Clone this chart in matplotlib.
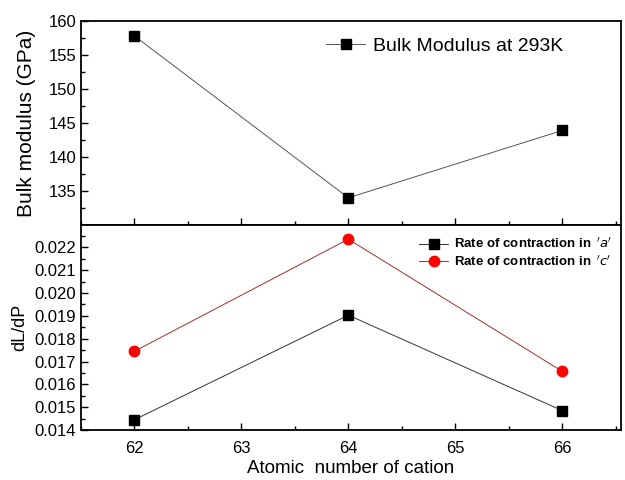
import matplotlib
matplotlib.use("Agg")
import matplotlib.pyplot as plt
from matplotlib.ticker import MultipleLocator, FormatStrFormatter

plt.rcParams['font.family'] = ['Liberation Sans', 'DejaVu Sans']

atomic_number = [62, 64, 66]
bulk_modulus = [157.8, 134.0, 143.9]
rate_a = [0.01445, 0.01903, 0.01485]
rate_c = [0.01745, 0.02236, 0.01657]

fig = plt.figure(figsize=(6.25, 4.8), dpi=100)
left, right = 81/625, 621/625
ax1 = fig.add_axes([left, 1-225/480, right-left, (225-21)/480])
ax2 = fig.add_axes([left, 1-430/480, right-left, (430-225)/480], sharex=ax1)

ax1.plot(atomic_number, bulk_modulus, color='#555555', lw=0.7, marker='s',
         ms=7, mfc='black', mec='black', label='Bulk Modulus at 293K')
ax1.set_ylim(130, 160)
ax1.set_xlim(61.5, 66.55)
ax1.set_yticks([135, 140, 145, 150, 155, 160])
ax1.yaxis.set_minor_locator(MultipleLocator(2.5))
ax1.set_ylabel('Bulk modulus (GPa)', fontsize=15)
ax1.yaxis.set_label_coords(-0.083, 0.5)
ax1.tick_params(labelbottom=False)
ax1.legend(loc='upper right', bbox_to_anchor=(0.925, 1.005), frameon=False,
           fontsize=14, handlelength=2.0, handletextpad=0.4)

ax2.plot(atomic_number, rate_a, color='#333333', lw=0.7, marker='s', ms=7,
         mfc='black', mec='black', label="Rate of contraction in $\\,\\it{'a'}$")
ax2.plot(atomic_number, rate_c, color='#a03030', lw=0.7, marker='o', ms=7.5,
         mfc='red', mec='red', label="Rate of contraction in $\\,\\it{'c'}$")
ax2.set_ylim(0.014, 0.02298)
ax2.yaxis.set_major_locator(MultipleLocator(0.001))
ax2.yaxis.set_minor_locator(MultipleLocator(0.0005))
ax2.yaxis.set_major_formatter(FormatStrFormatter('%.3f'))
ax2.xaxis.set_major_locator(MultipleLocator(1))
ax2.xaxis.set_minor_locator(MultipleLocator(0.5))
ax2.set_ylabel('dL/dP', fontsize=13)
ax2.yaxis.set_label_coords(-0.097, 0.5)
ax2.set_xlabel('Atomic  number of cation', fontsize=13.5, labelpad=3)
ax2.legend(loc='upper right', bbox_to_anchor=(1.005, 1.0), frameon=False,
           handlelength=2.2, handletextpad=0.4, labelspacing=0.2,
           prop={'weight': 'bold', 'size': 9.5})

for ax in (ax1, ax2):
    ax.tick_params(which='both', direction='in', labelsize=12)
    ax.tick_params(which='major', length=5, width=1)
    ax.tick_params(which='minor', length=3, width=1)
    for s in ax.spines.values():
        s.set_linewidth(1.3)
ax2.tick_params(axis='x', pad=8)
ax1.xaxis.set_minor_locator(MultipleLocator(0.5))

fig.savefig('out.png', dpi=100)
